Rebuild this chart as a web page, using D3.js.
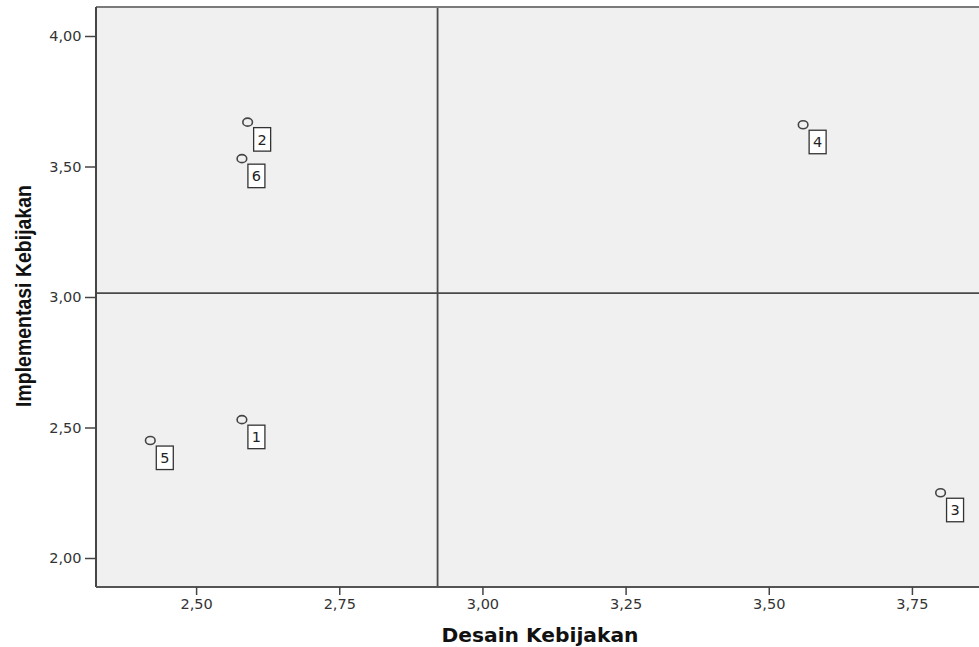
<!DOCTYPE html>
<html>
<head>
<meta charset="utf-8">
<script src="https://cdn.jsdelivr.net/npm/d3@7"></script>
<style>
  html, body { margin: 0; padding: 0; background: #ffffff; }
  svg { display: block; }
</style>
</head>
<body>
<svg id="chart" width="979" height="647"></svg>
<script>
// ---- data ----
const cases = ["1", "2", "3", "4", "5", "6"];
const desainKebijakan = [2.58, 2.59, 3.80, 3.56, 2.42, 2.58];
const implementasiKebijakan = [2.53, 3.67, 2.25, 3.66, 2.45, 3.53];
const xTicks = [2.50, 2.75, 3.00, 3.25, 3.50, 3.75];
const yTicks = [2.00, 2.50, 3.00, 3.50, 4.00];
const xTitle = "Desain Kebijakan";
const yTitle = "Implementasi Kebijakan";

// ---- layout ----
const plot = { left: 96, top: 7, right: 985, bottom: 587 };
const svg = d3.select("#chart");

const x = d3.scaleLinear().domain([2.3252, 3.8776]).range([plot.left, plot.right]);
const y = d3.scaleLinear().domain([1.8889, 4.1111]).range([plot.bottom, plot.top]);
const fmt = d => d.toFixed(2).replace(".", ",");

// plot background
svg.append("rect")
  .attr("x", plot.left).attr("y", plot.top)
  .attr("width", plot.right - plot.left).attr("height", plot.bottom - plot.top)
  .attr("fill", "#f0f0f0");

// mean reference lines
const mx = d3.mean(desainKebijakan), my = d3.mean(implementasiKebijakan);
svg.append("line")
  .attr("x1", x(mx)).attr("x2", x(mx))
  .attr("y1", plot.top).attr("y2", plot.bottom)
  .attr("stroke", "#4a4a4a").attr("stroke-width", 1.8);
svg.append("line")
  .attr("x1", plot.left).attr("x2", plot.right)
  .attr("y1", y(my)).attr("y2", y(my))
  .attr("stroke", "#4a4a4a").attr("stroke-width", 1.8);

// frame
svg.append("line").attr("x1", plot.left).attr("x2", plot.right)
  .attr("y1", plot.top).attr("y2", plot.top)
  .attr("stroke", "#7a7a7a").attr("stroke-width", 2);
svg.append("line").attr("x1", plot.left).attr("x2", plot.left)
  .attr("y1", plot.top).attr("y2", plot.bottom)
  .attr("stroke", "#444").attr("stroke-width", 2);
svg.append("line").attr("x1", plot.left).attr("x2", plot.right)
  .attr("y1", plot.bottom).attr("y2", plot.bottom)
  .attr("stroke", "#555").attr("stroke-width", 2);

// axes
const xAxis = d3.axisBottom(x).tickValues(xTicks).tickFormat(fmt).tickSize(8).tickSizeOuter(0);
const gx = svg.append("g").attr("transform", `translate(0,${plot.bottom})`).call(xAxis);
gx.select(".domain").remove();
gx.selectAll(".tick line").attr("stroke", "#444").attr("stroke-width", 1.5);
gx.selectAll(".tick text")
  .attr("y", 12).attr("dy", "0.71em")
  .attr("fill", "#333")
  .style("font-family", "'DejaVu Sans', sans-serif").style("font-size", "14.5px");

const yAxis = d3.axisLeft(y).tickValues(yTicks).tickFormat(fmt).tickSize(11).tickSizeOuter(0);
const gy = svg.append("g").attr("transform", `translate(${plot.left},0)`).call(yAxis);
gy.select(".domain").remove();
gy.selectAll(".tick line").attr("stroke", "#444").attr("stroke-width", 1.5);
gy.selectAll(".tick text")
  .attr("x", -14.5)
  .attr("fill", "#333")
  .style("font-family", "'DejaVu Sans', sans-serif").style("font-size", "14.5px");

// axis titles
svg.append("text")
  .attr("x", 540).attr("y", 642)
  .attr("text-anchor", "middle")
  .attr("fill", "#111")
  .attr("textLength", 197).attr("lengthAdjust", "spacingAndGlyphs")
  .style("font-family", "'DejaVu Sans', sans-serif")
  .style("font-weight", "bold").style("font-size", "19px")
  .text(xTitle);

svg.append("text")
  .attr("transform", "translate(31,296) rotate(-90)")
  .attr("text-anchor", "middle")
  .attr("fill", "#111")
  .attr("textLength", 222).attr("lengthAdjust", "spacingAndGlyphs")
  .style("font-family", "'Liberation Sans Narrow', 'Liberation Sans', Arial, sans-serif")
  .style("font-weight", "bold").style("font-size", "22px")
  .text(yTitle);

// points and labels
const pts = cases.map((c, i) => ({ c, xv: desainKebijakan[i], yv: implementasiKebijakan[i] }));
const gp = svg.append("g");
gp.selectAll("ellipse").data(pts).join("ellipse")
  .attr("cx", d => x(d.xv)).attr("cy", d => y(d.yv))
  .attr("rx", 4.8).attr("ry", 4)
  .attr("fill", "none").attr("stroke", "#444").attr("stroke-width", 1.6);

const lab = gp.selectAll("g.lab").data(pts).join("g").attr("class", "lab")
  .attr("transform", d => `translate(${x(d.xv) + 6},${y(d.yv) + 5.5})`);
lab.append("rect")
  .attr("width", 17).attr("height", 23.5)
  .attr("fill", "#ffffff").attr("stroke", "#333").attr("stroke-width", 1.3);
lab.append("text")
  .attr("x", 8.5).attr("y", 11.75).attr("dy", "0.36em")
  .attr("text-anchor", "middle")
  .attr("fill", "#222")
  .style("font-family", "'DejaVu Sans', sans-serif").style("font-size", "14.5px")
  .text(d => d.c);
</script>
</body>
</html>
